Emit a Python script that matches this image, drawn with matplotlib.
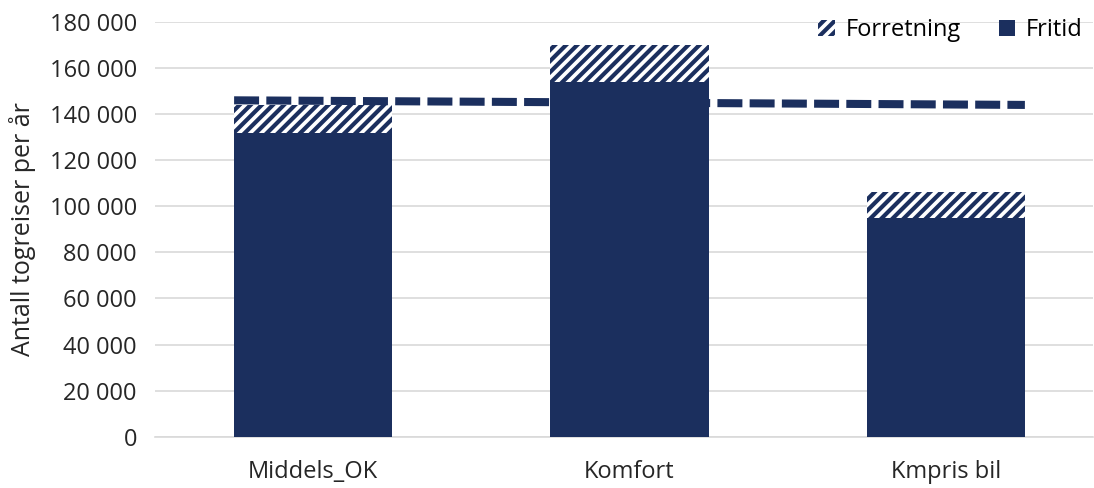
import matplotlib.pyplot as plt
from matplotlib.ticker import FuncFormatter

kategorier = ['Middels_OK', 'Komfort', 'Kmpris bil']
fritid = [132000, 154000, 95000]
forretning = [12000, 16000, 11000]
referanse = [146000, 144000]  # stiplet linje, venstre og høyre ende

navy = '#1B2F5E'
plt.rcParams['font.family'] = ['Open Sans', 'DejaVu Sans']
plt.rcParams['hatch.linewidth'] = 3.0
plt.rcParams['hatch.color'] = navy

fig = plt.figure(figsize=(10.94, 4.88), dpi=100)
ax = fig.add_axes([0.1417, 0.105, 0.857, 0.85])

x = list(range(len(kategorier)))
w = 0.5
ax.bar(x, fritid, width=w, color=navy, label='Fritid', zorder=3)
ax.bar(x, forretning, width=w, bottom=fritid, color='white', edgecolor=navy,
       hatch='///', linewidth=0, label='Forretning', zorder=3)

ax.plot([x[0] - w / 2, x[-1] + w / 2], referanse, color=navy, lw=5.8,
        dashes=(3.1, 0.9), zorder=4)

ax.set_xlim(-0.5, 2.464)
ax.set_ylim(0, 180000)
ax.set_yticks(range(0, 180001, 20000))
ax.yaxis.set_major_formatter(FuncFormatter(lambda v, p: f'{int(v):,}'.replace(',', ' ')))
ax.set_xticks(x)
ax.set_xticklabels(kategorier)
ax.tick_params(axis='both', length=0, labelsize=17, colors='#262626')
ax.tick_params(axis='y', pad=13)
ax.tick_params(axis='x', pad=17)
ax.grid(axis='y', color='#D9D9D9', lw=1.2, zorder=0)
for s in ['top', 'right', 'left']:
    ax.spines[s].set_visible(False)
ax.spines['bottom'].set_color('#D9D9D9')
ax.spines['bottom'].set_linewidth(1.2)
ax.set_ylabel('Antall togreiser per år', fontsize=18, color='#262626')
ax.yaxis.set_label_coords(-0.127, 0.5)

h, l = ax.get_legend_handles_labels()
ax.legend(h[::-1], l[::-1], loc='upper right', ncol=2, frameon=False,
          fontsize=17, handlelength=0.7, handleheight=0.7, columnspacing=1.6,
          bbox_to_anchor=(1.012, 1.06), handletextpad=0.45)

fig.savefig('out.png', dpi=100)
